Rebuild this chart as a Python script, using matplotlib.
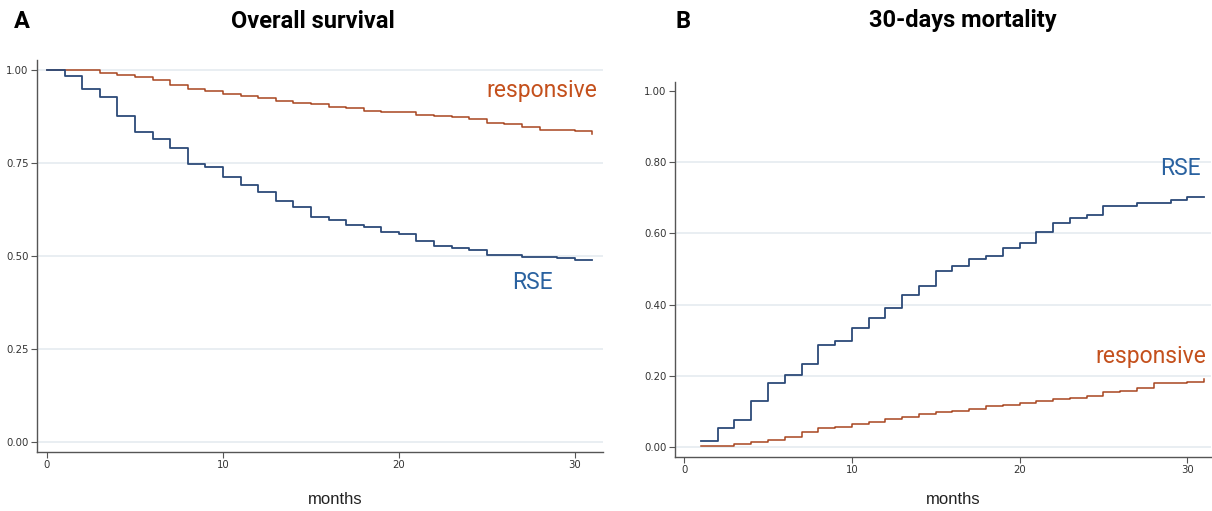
import matplotlib
matplotlib.use('Agg')
import matplotlib.pyplot as plt

# panel A: overall survival (Kaplan-Meier), months 0..31
os_months = list(range(0, 32))
os_responsive = [1.0, 1.0, 1.0, 0.993, 0.988, 0.982, 0.973, 0.960, 0.948, 0.944,
                 0.937, 0.931, 0.924, 0.917, 0.912, 0.909, 0.901, 0.899, 0.891, 0.888,
                 0.886, 0.879, 0.877, 0.873, 0.868, 0.859, 0.855, 0.848, 0.838, 0.838,
                 0.835, 0.827]
os_rse = [1.0, 0.984, 0.949, 0.928, 0.876, 0.834, 0.816, 0.791, 0.747, 0.740,
          0.713, 0.691, 0.673, 0.648, 0.633, 0.606, 0.597, 0.583, 0.579, 0.565,
          0.559, 0.540, 0.528, 0.521, 0.516, 0.503, 0.503, 0.498, 0.498, 0.494,
          0.489, 0.489]

# panel B: 30-days mortality (cumulative), months 1..31
mort_months = list(range(1, 32))
mort_rse = [0.018, 0.052, 0.076, 0.130, 0.181, 0.202, 0.233, 0.287, 0.299, 0.333,
            0.363, 0.389, 0.427, 0.452, 0.493, 0.508, 0.529, 0.536, 0.558, 0.574,
            0.603, 0.628, 0.644, 0.652, 0.677, 0.677, 0.684, 0.684, 0.694, 0.703,
            0.703]
mort_responsive = [0.003, 0.003, 0.008, 0.013, 0.020, 0.029, 0.043, 0.054, 0.057, 0.065,
                   0.071, 0.079, 0.085, 0.093, 0.097, 0.102, 0.106, 0.115, 0.119, 0.123,
                   0.129, 0.134, 0.138, 0.143, 0.154, 0.158, 0.167, 0.179, 0.179, 0.183,
                   0.190]

xticks = [0, 10, 20, 30]
a_yticks = [0, 0.25, 0.5, 0.75, 1.0]
b_yticks = [0, 0.2, 0.4, 0.6, 0.8, 1.0]

line_orange = '#a8451f'
line_blue = '#2c4a78'
lab_orange = '#c4501c'
lab_blue = '#2a62a0'
grid_col = '#e3eaef'
title_font = ['Roboto', 'DejaVu Sans']
label_font = ['Roboto', 'DejaVu Sans']

fig = plt.figure(figsize=(12.12, 5.11), dpi=100)
axA = fig.add_axes([0.0305, 0.1155, 0.467, 0.767])
axB = fig.add_axes([0.557, 0.1057, 0.442, 0.734])


def style(ax, yticks, grid_ticks):
    for s in ['top', 'right']:
        ax.spines[s].set_visible(False)
    for s in ['left', 'bottom']:
        ax.spines[s].set_color('#555555')
        ax.spines[s].set_linewidth(1.0)
    ax.set_xticks(xticks)
    ax.set_yticks(yticks)
    ax.set_yticklabels(['%.2f' % v for v in yticks])
    ax.tick_params(axis='both', labelsize=7.3, length=4, width=0.8,
                   colors='#555555', labelcolor='#333333', pad=2)
    for g in grid_ticks:
        ax.axhline(g, color=grid_col, lw=1.1, zorder=0)


style(axA, a_yticks, a_yticks)
axA.step(os_months, os_responsive, where='post', color=line_orange, lw=1.1)
axA.step(os_months, os_rse, where='post', color=line_blue, lw=1.3)
axA.set_xlim(-0.57, 31.6)
axA.set_ylim(-0.027, 1.027)
axA.text(31.3, 0.945, 'responsive', color=lab_orange, fontsize=16.5,
         family=label_font, ha='right', va='center')
axA.text(28.75, 0.43, 'RSE', color=lab_blue, fontsize=16.5,
         family=label_font, ha='right', va='center')

style(axB, b_yticks, b_yticks[:-1])
axB.step(mort_months, mort_rse, where='post', color=line_blue, lw=1.3)
axB.step(mort_months, mort_responsive, where='post', color=line_orange, lw=1.1)
axB.set_xlim(-0.54, 31.4)
axB.set_ylim(-0.028, 1.025)
axB.text(30.8, 0.783, 'RSE', color=lab_blue, fontsize=16.5,
         family=label_font, ha='right', va='center')
axB.text(31.1, 0.253, 'responsive', color=lab_orange, fontsize=16.5,
         family=label_font, ha='right', va='center')

fig.text(22 / 1212, 1 - 21 / 511, 'A', fontsize=17, fontweight='bold',
         family=title_font, ha='center', va='center')
fig.text(313 / 1212, 1 - 21 / 511, 'Overall survival', fontsize=17, fontweight='bold',
         family=title_font, ha='center', va='center')
fig.text(683 / 1212, 1 - 21 / 511, 'B', fontsize=17, fontweight='bold',
         family=title_font, ha='center', va='center')
fig.text(963 / 1212, 1 - 21 / 511, '30-days mortality', fontsize=17, fontweight='bold',
         family=title_font, ha='center', va='center')

fig.text(335 / 1212, 1 - 500 / 511, 'months', fontsize=12, color='#222222',
         family=['Liberation Sans', 'DejaVu Sans'], ha='center', va='center')
fig.text(953 / 1212, 1 - 500 / 511, 'months', fontsize=12, color='#222222',
         family=['Liberation Sans', 'DejaVu Sans'], ha='center', va='center')

fig.savefig('out.png', dpi=100)
